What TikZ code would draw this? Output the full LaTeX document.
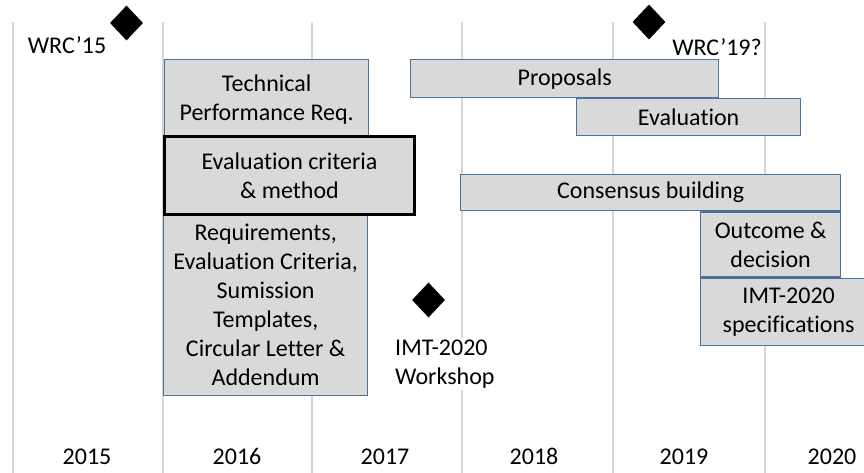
\documentclass[tikz,border=0pt]{standalone}
\usepackage{fontspec}
\setmainfont{Carlito}[Numbers=Lining, Ligatures=NoCommon]
\usepackage{tikz}
\usetikzlibrary{shapes.geometric, positioning}
\definecolor{barfill}{HTML}{D9D9D9}
\definecolor{baredge}{HTML}{4A71A0}
\definecolor{gridgray}{HTML}{D4D4D4}
\tikzset{
  task/.style={
    rectangle, draw=baredge, line width=1.3pt, fill=barfill,
    align=center, inner sep=0pt, anchor=north west,
    font=\fontsize{24}{29}\selectfont
  },
  keytask/.style={task, draw=black, line width=3pt},
  milestone/.style={
    diamond, fill=black, inner sep=0pt,
    minimum width=33pt, minimum height=35pt
  },
  note/.style={font=\fontsize{24}{29}\selectfont, inner sep=2pt},
  gridline/.style={draw=gridgray, line width=1.5pt}
}

\begin{document}
\begin{tikzpicture}[x=1pt, y=-1pt]

  % Página
  \clip (0,0) rectangle (864,473);
  \fill[white] (0,0) rectangle (864,473);

  % Rejilla de años
  \foreach \gx in {13,163,312,462,613,765}
    \draw[gridline] (\gx,22) -- (\gx,473);

  % Años
  \foreach \yr/\yx in {2015/87, 2016/237, 2017/385, 2018/534, 2019/684, 2020/832}
    \node[note, anchor=base] (year-\yr) at (\yx,464.5) {\yr};

  % Barras 2016/2017
  \node[task, minimum width=204pt, minimum height=76pt] (tech) at (164,59)
    {\strut Technical\\Performance Req.};
  \node[task, minimum width=204pt, minimum height=182pt] (reqs) at (163,213)
    {Requirements,\\Evaluation Criteria,\\Sumission\\Templates,\\Circular Letter \&\\Addendum};
  \node[keytask, minimum width=250pt, minimum height=78pt] (crit) at (163,135)
    {Evaluation criteria\\\& method};

  % Barras 2017--2020
  \node[task, minimum width=308pt, minimum height=38pt] (prop) at (410,59)
    {Proposals};
  \node[task, minimum width=224pt, minimum height=37pt] (eval) at (576,98)
    {Evaluation};
  \node[task, minimum width=380pt, minimum height=36pt] (cons) at (460,174)
    {Consensus building};
  \node[task, minimum width=140pt, minimum height=65pt,
    below=0pt of cons.south east, anchor=north east] (outc)
    {Outcome \&\\decision};
  \node[task, minimum width=176pt, minimum height=67pt,
    below=0pt of outc.south west, anchor=north west] (spec)
    {IMT-2020\\specifications};

  % Hitos
  \node[milestone] (wrc15) at (126.5,23) {};
  \node[note] (wrc15-text) at (67,45) {WRC’15};
  \node[milestone] (wrc19) at (649,22) {};
  \node[note] (wrc19-text) at (717,47) {WRC’19?};
  \node[milestone] (ws) at (428.5,300) {};
  \node[note, fill=white, align=left, anchor=west] (ws-text) at (393,364)
    {IMT-2020\\Workshop};

\end{tikzpicture}
\end{document}
